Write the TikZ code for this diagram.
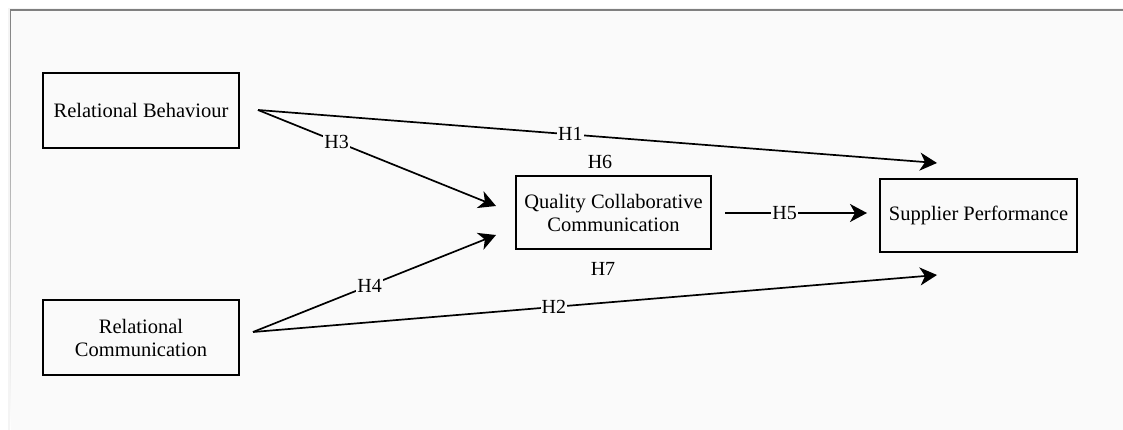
\documentclass[tikz,border=0pt]{standalone}
\usepackage{fontspec}
\setmainfont{Liberation Serif}
\usetikzlibrary{arrows.meta}
\definecolor{panel}{HTML}{FAFAFA}
\definecolor{shade}{HTML}{EBEBEB}
\definecolor{shadelight}{HTML}{F4F4F4}
\tikzset{
  box/.style={draw=black, line width=1.5pt, fill=panel, align=center, inner sep=2pt,
    font=\fontsize{20.5}{23}\selectfont},
  link/.style={line width=1.7pt, -{Stealth[length=17pt,width=18pt,inset=5pt]}},
  lab/.style={fill=panel, inner sep=1pt, font=\fontsize{20}{23}\selectfont},
  freelab/.style={inner sep=0pt, font=\fontsize{20}{23}\selectfont},
}
\begin{document}
\begin{tikzpicture}[x=1pt,y=-1pt]
\useasboundingbox (0,0) rectangle (1123,430);
\fill[white] (0,0) rectangle (1123,430);
\fill[shadelight] (8,8) rectangle (1123,430);
\fill[shade] (10,10) rectangle (1123,430);
\fill[panel] (11,11) rectangle (1123,430);

\node[box, minimum width=196pt, minimum height=75pt] (rb) at (141,110.5) {Relational Behaviour};
\node[box, minimum width=196pt, minimum height=75pt] (rc) at (141,337.5) {Relational\\Communication};
\node[box, minimum width=195pt, minimum height=73pt] (qcc) at (613.5,212.5) {Quality Collaborative\\Communication};
\node[box, minimum width=197pt, minimum height=73pt] (sp) at (978.5,215.5) {Supplier Performance};

\coordinate (rbo) at (258,110);
\coordinate (rco) at (253,332);
\coordinate (t1) at (937,163);
\coordinate (t3) at (496,206);
\coordinate (t4) at (496,235);
\coordinate (t2) at (937,275);
\coordinate (h5s) at (725,213);
\coordinate (h5e) at (867,213);

\draw[link] (rbo) -- node[lab, pos=0.46] (l1) {H1} (t1);
\draw[link] (rbo) -- node[lab, pos=0.33] (l3) {H3} (t3);
\draw[link] (rco) -- node[lab, pos=0.48] (l4) {H4} (t4);
\draw[link] (rco) -- node[lab, pos=0.44] (l2) {H2} (t2);
\draw[link] (h5s) -- node[lab, pos=0.42] (l5) {H5} (h5e);

\node[freelab] (h6) at (600,162) {H6};
\node[freelab] (h7) at (603,269) {H7};
\end{tikzpicture}
\end{document}
